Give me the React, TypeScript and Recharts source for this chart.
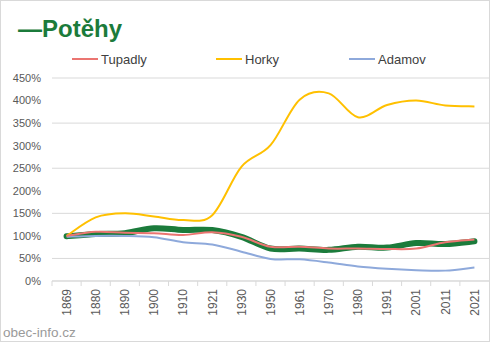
import React from 'react';
import { LineChart, Line, XAxis, YAxis, CartesianGrid } from 'recharts';

const years = ['1869', '1880', '1890', '1900', '1910', '1921', '1930', '1950', '1961', '1970', '1980', '1991', '2001', '2011', '2021'];
const potehy = [99, 104, 106, 117, 113, 113, 98, 72, 72, 69, 76, 74, 84, 82, 88];
const tupadly = [100, 109, 107, 106, 102, 108, 98, 76, 76, 72, 72, 71, 72, 86, 92];
const horky = [100, 141, 150, 143, 135, 146, 253, 301, 402, 416, 363, 390, 400, 389, 387];
const adamov = [98, 100, 100, 97, 86, 81, 65, 49, 48, 41, 32, 27, 24, 23, 30];
const yTicks = [0, 50, 100, 150, 200, 250, 300, 350, 400, 450];

const legendItems = [
  { name: 'Tupadly', color: '#EB7571', left: 72 },
  { name: 'Horky', color: '#FFC000', left: 216 },
  { name: 'Adamov', color: '#8EA9DB', left: 349 },
];

const chartData = years.map((year, i) => ({
  year,
  potehy: potehy[i],
  tupadly: tupadly[i],
  horky: horky[i],
  adamov: adamov[i],
}));

// Excel-like smoothing (Catmull-Rom through the points)
const smoothCurve = (context: any) => {
  let pts: number[][] = [];
  return {
    areaStart() {},
    areaEnd() {},
    lineStart() { pts = []; },
    point(x: number, y: number) { pts.push([+x, +y]); },
    lineEnd() {
      if (!pts.length) return;
      context.moveTo(pts[0][0], pts[0][1]);
      for (let i = 0; i < pts.length - 1; i++) {
        const p0 = pts[i - 1] || pts[i];
        const p1 = pts[i];
        const p2 = pts[i + 1];
        const p3 = pts[i + 2] || p2;
        context.bezierCurveTo(
          p1[0] + (p2[0] - p0[0]) / 6, p1[1] + (p2[1] - p0[1]) / 6,
          p2[0] - (p3[0] - p1[0]) / 6, p2[1] - (p3[1] - p1[1]) / 6,
          p2[0], p2[1]
        );
      }
    },
  };
};

const BAND = (489 - 52) / years.length;

const YearTick = ({ x, y, payload }: any) => (
  <g>
    <line x1={x - BAND / 2} x2={x - BAND / 2} y1={y} y2={y + 5} stroke="#d9d9d9" />
    <text
      transform={`translate(${x},${y + 8}) rotate(-90)`}
      textAnchor="end"
      dy="0.36em"
      fontSize={12}
      fill="#595959"
      fontFamily="Liberation Sans, Arial, sans-serif"
    >
      {payload.value}
    </text>
  </g>
);

export default function App() {
  return (
    <div style={{ position: 'absolute', left: 0, top: 0, width: 492, height: 343, background: '#fff', fontFamily: 'Liberation Sans, Arial, sans-serif' }}>
      <div style={{ position: 'absolute', left: 0, top: 0, width: 488, height: 340, border: '1px solid #d9d9d9' }} />
      <div style={{ position: 'absolute', left: 18, top: 15, fontSize: 24, fontWeight: 'bold', color: '#1B7B3B', whiteSpace: 'nowrap', lineHeight: 'normal' }}>
        —Potěhy
      </div>
      {legendItems.map((item) => (
        <div key={item.name} style={{ position: 'absolute', left: item.left, top: 51, height: 16, display: 'flex', alignItems: 'center', whiteSpace: 'nowrap' }}>
          <span style={{ display: 'inline-block', width: 26, height: 2, background: item.color, marginRight: 3 }} />
          <span style={{ fontSize: 13, color: '#404040' }}>{item.name}</span>
        </div>
      ))}
      <div style={{ position: 'absolute', left: 3, top: 325, fontSize: 13.5, color: '#9a9a9a', whiteSpace: 'nowrap', lineHeight: 'normal' }}>
        obec-info.cz
      </div>
      <div style={{ position: 'absolute', left: 0, top: 0 }}>
        <LineChart width={492} height={343} data={chartData} margin={{ top: 78, right: 3, bottom: 0, left: 0 }}>
          <CartesianGrid vertical={false} stroke="#d9d9d9" />
          <XAxis
            dataKey="year"
            height={62}
            interval={0}
            padding={{ left: BAND / 2, right: BAND / 2 }}
            stroke="#d9d9d9"
            tickLine={false}
            tickSize={0}
            tickMargin={0}
            tick={<YearTick />}
          />
          <YAxis
            width={52}
            domain={[0, 450]}
            ticks={yTicks}
            axisLine={false}
            tickLine={false}
            tickSize={0}
            tickMargin={11}
            tickFormatter={(v: number) => `${v}%`}
            tick={{ fontSize: 11, fill: '#595959', fontFamily: 'Liberation Sans, Arial, sans-serif' }}
          />
          <Line dataKey="potehy" type={smoothCurve as any} stroke="#1B7B3B" strokeWidth={6} strokeLinecap="round" dot={false} isAnimationActive={false} />
          <Line dataKey="adamov" type={smoothCurve as any} stroke="#8EA9DB" strokeWidth={2} dot={false} isAnimationActive={false} />
          <Line dataKey="horky" type={smoothCurve as any} stroke="#FFC000" strokeWidth={2} dot={false} isAnimationActive={false} />
          <Line dataKey="tupadly" type={smoothCurve as any} stroke="#EB7571" strokeWidth={2} dot={false} isAnimationActive={false} />
        </LineChart>
      </div>
    </div>
  );
}
